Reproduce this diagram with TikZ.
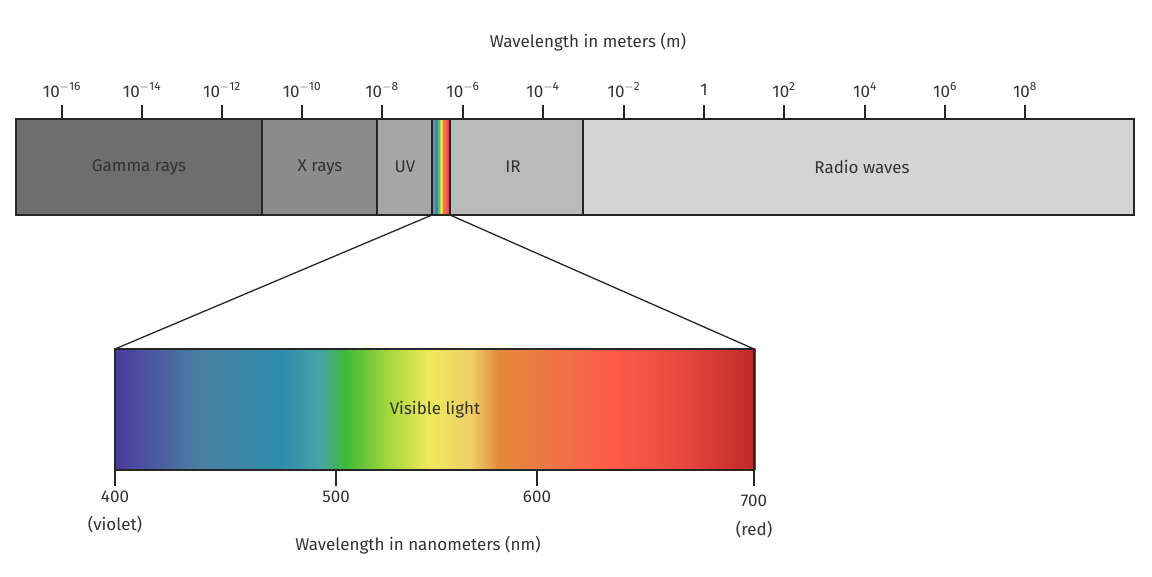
\documentclass[tikz,border=0pt]{standalone}
\usepackage{fontspec}
\setmainfont{Fira Sans}
\definecolor{s0}{HTML}{4B3AA0}
\definecolor{s1}{HTML}{4C5EA3}
\definecolor{s2}{HTML}{4A80A0}
\definecolor{s3}{HTML}{2E8BAB}
\definecolor{s4}{HTML}{47A3A8}
\definecolor{s5}{HTML}{3FB93A}
\definecolor{s6}{HTML}{A8D83E}
\definecolor{s7}{HTML}{EEE95A}
\definecolor{s8}{HTML}{F0D06A}
\definecolor{s9}{HTML}{E38B3A}
\definecolor{s10}{HTML}{F07048}
\definecolor{s11}{HTML}{FF5B48}
\definecolor{s12}{HTML}{E84A40}
\definecolor{s13}{HTML}{C02828}
\newcommand{\specbar}[4]{%
  \foreach \fa/\ca/\fb/\cb in {0/s0/.07/s1,.07/s1/.133/s2,.133/s2/.258/s3,.258/s3/.32/s4,.32/s4/.36/s5,.36/s5/.43/s6,.43/s6/.49/s7,.49/s7/.556/s8,.556/s8/.60/s9,.60/s9/.70/s10,.70/s10/.775/s11,.775/s11/.884/s12,.884/s12/1.002/s13}
    \path[left color=\ca,right color=\cb,shading angle=90] ({#1+\fa*(#2-#1)},#3) rectangle ({#1+\fb*(#2-#1)},#4);}
\begin{document}
\begin{tikzpicture}[x=1pt,y=-1pt,
  lbl/.style={font=\fontsize{17}{20}\selectfont,text=black!80},
  band/.style={draw=black!85,line width=1.3pt},
  tick/.style={draw=black!85,line width=1.3pt}]
\useasboundingbox (0,0) rectangle (1152,577);
\node[lbl] (t1) at (588,42) {Wavelength in meters (m)};
% bands
\fill[black!57] (16,119) rectangle (262,215);
\fill[black!45] (262,119) rectangle (377,215);
\fill[black!35] (377,119) rectangle (432,215);
\fill[black!27] (450,119) rectangle (583,215);
\fill[black!17] (583,119) rectangle (1134,215);
\specbar{432}{450}{119}{215}
\draw[band] (16,119) rectangle (1134,215);
\foreach \x in {262,377,432,450,583} \draw[band] (\x,119) -- (\x,215);
\node[lbl] (g) at (139,167) {Gamma rays};
\node[lbl] (xr) at (320,167) {X rays};
\node[lbl] (uv) at (405,167) {UV};
\node[lbl] (ir) at (513,167) {IR};
\node[lbl] (rw) at (862,167) {Radio waves};
\foreach \x/\t in {62/10^{-16},142/10^{-14},222/10^{-12},302/10^{-10},382/10^{-8},463/10^{-6},543/10^{-4},624/10^{-2},704/1,784/10^{2},865/10^{4},945/10^{6},1025/10^{8}}{
  \draw[tick] (\x,105) -- (\x,119);
  \node[lbl] at (\x,90) {$\mathrm{\t}$};}
% visible
\coordinate (va) at (432,215);
\coordinate (vb) at (450,215);
\specbar{115}{754}{349}{470}
\draw[band] (115,349) rectangle (754,470);
\coordinate (bl) at (115,349);
\coordinate (br) at (754,349);
\draw[black!85,line width=1.3pt] (va) -- (bl) (vb) -- (br);
\node[lbl] (vl) at (435,410) {Visible light};
\foreach \x in {115,336,537,754} \draw[tick] (\x,470) -- (\x,486);
\node[lbl] at (115,497) {400};
\node[lbl] at (115,525) {(violet)};
\node[lbl] at (336,497) {500};
\node[lbl] at (537,497) {600};
\node[lbl] at (754,501) {700};
\node[lbl] at (754,530) {(red)};
\node[lbl] (t2) at (418,545) {Wavelength in nanometers (nm)};
\end{tikzpicture}
\end{document}
